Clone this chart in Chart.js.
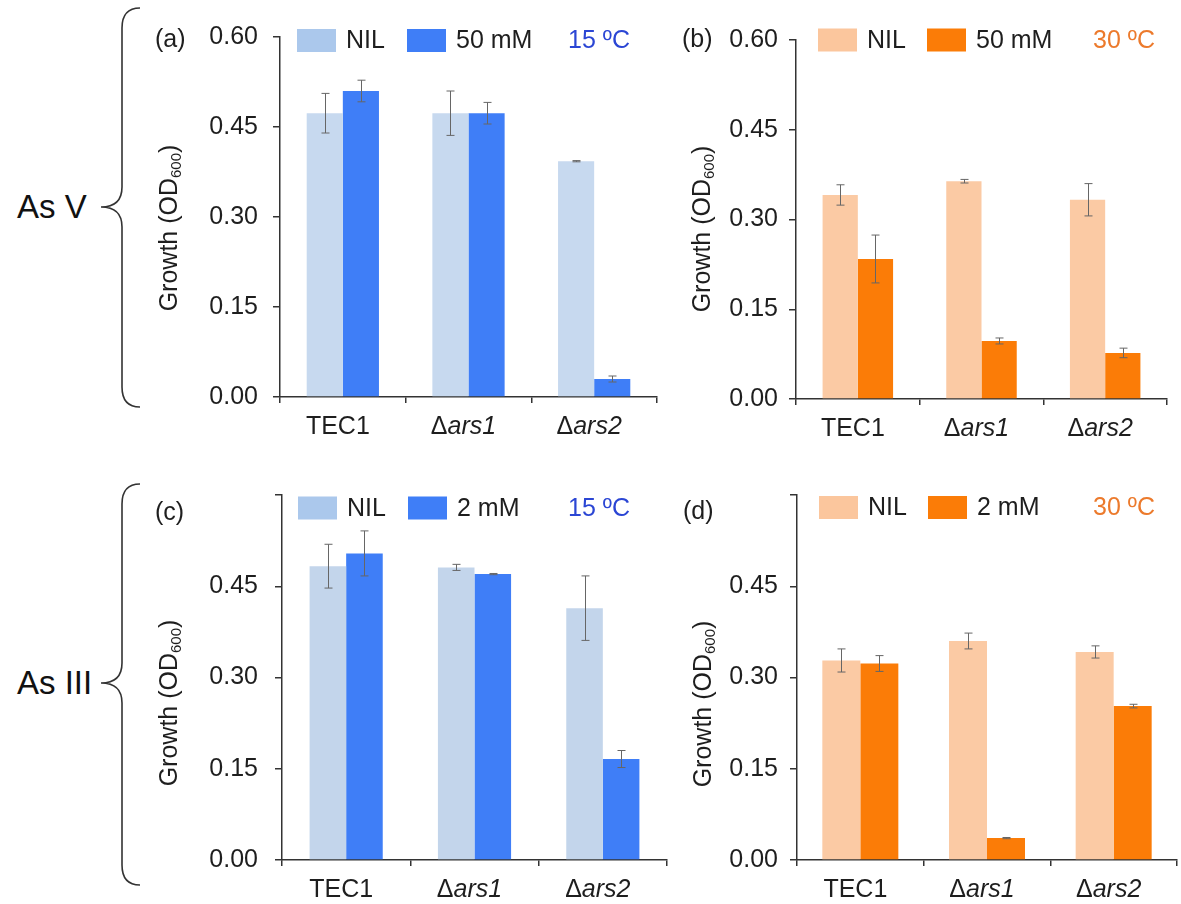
<!DOCTYPE html>
<html><head><meta charset="utf-8">
<script src="https://cdn.jsdelivr.net/npm/chart.js@4.4.1/dist/chart.umd.min.js"></script>
<style>
html,body{margin:0;padding:0;background:#fff}
body{width:1181px;height:904px;overflow:hidden;position:relative;font-family:"Liberation Sans",Arial,sans-serif}
canvas{position:absolute}
.grp{position:absolute;font-size:33px;color:#111;line-height:1;white-space:nowrap}
svg{position:absolute;left:0;top:0}
</style></head><body>
<svg width="160" height="904">
  <path d="M140,8 Q122,8 122,28 L122,187 Q122,207 101,207 Q122,207 122,227 L122,387 Q122,407 140,407" fill="none" stroke="#333" stroke-width="1.6"/>
  <path d="M140,484 Q122,484 122,504 L122,663 Q122,683 101,683 Q122,683 122,703 L122,865 Q122,885 140,885" fill="none" stroke="#333" stroke-width="1.6"/>
</svg>
<div class="grp" style="left:17px;top:190px">As V</div>
<div class="grp" style="left:17px;top:666px">As III</div>
<canvas id="ca"></canvas>
<canvas id="cb"></canvas>
<canvas id="cc"></canvas>
<canvas id="cd"></canvas>
<script>
// ---------- data ----------
const categories = ['TEC1', 'Δars1', 'Δars2'];
const yTicks = [0, 0.15, 0.30, 0.45, 0.60];

const asV15Nil = [0.473, 0.473, 0.393];
const asV15NilErr = [0.033, 0.037, 0.001];
const asV15Dose = [0.510, 0.473, 0.030];
const asV15DoseErr = [0.018, 0.018, 0.005];

const asV30Nil = [0.341, 0.364, 0.333];
const asV30NilErr = [0.017, 0.003, 0.027];
const asV30Dose = [0.234, 0.097, 0.077];
const asV30DoseErr = [0.040, 0.005, 0.008];

const asIII15Nil = [0.483, 0.481, 0.414];
const asIII15NilErr = [0.036, 0.005, 0.053];
const asIII15Dose = [0.504, 0.470, 0.166];
const asIII15DoseErr = [0.037, 0.001, 0.014];

const asIII30Nil = [0.328, 0.360, 0.342];
const asIII30NilErr = [0.019, 0.013, 0.010];
const asIII30Dose = [0.323, 0.036, 0.253];
const asIII30DoseErr = [0.013, 0.001, 0.003];

const seriesNames = { nil: 'NIL', asV: '50 mM', asIII: '2 mM' };
const tempLabels = { cold: '15 ºC', warm: '30 ºC' };

// ---------- styles ----------
const C = {
  blueLight: '#c7d9ef', blueLightLeg: '#abc8ec', blue: '#3f7ef7', blueText: '#2b46d4',
  orangeLight: '#fbcaa4', orangeLightLeg: '#fbc69d', orange: '#fb7c07', orangeText: '#ec7a2c',
  axis: '#333', text: '#1e1e1e', err: '#666'
};
const FONT = '"Liberation Sans", Arial, sans-serif';

const panels = [
  { id: 'ca', letter: '(a)', canvas: {x:140, y:0, w:530, h:455}, area: {l:280, t:37, r:657, b:397},
    nil: asV15Nil, nilErr: asV15NilErr, dose: asV15Dose, doseErr: asV15DoseErr, doseName: seriesNames.asV,
    temp: tempLabels.cold, light: C.blueLight, lightLeg: C.blueLightLeg, dark: C.blue, tempColor: C.blueText,
    catPct: 0.575, tickPad: 15, hideTop: false,
    letterPos: [155, 40], titleX: 170, titleY: 228, legY: 40.5, leg1: 17, leg2: 127, tempX: 288 },
  { id: 'cb', letter: '(b)', canvas: {x:660, y:0, w:521, h:455}, area: {l:796, t:40, r:1167, b:399},
    nil: asV30Nil, nilErr: asV30NilErr, dose: asV30Dose, doseErr: asV30DoseErr, doseName: seriesNames.asV,
    temp: tempLabels.warm, light: C.orangeLight, lightLeg: C.orangeLightLeg, dark: C.orange, tempColor: C.orangeText,
    catPct: 0.57, tickPad: 11, hideTop: false,
    letterPos: [682, 40], titleX: 703, titleY: 229, legY: 40, leg1: 22, leg2: 131, tempX: 297 },
  { id: 'cc', letter: '(c)', canvas: {x:140, y:460, w:540, h:444}, area: {l:282, t:495, r:667, b:860},
    nil: asIII15Nil, nilErr: asIII15NilErr, dose: asIII15Dose, doseErr: asIII15DoseErr, doseName: seriesNames.asIII,
    temp: tempLabels.cold, light: '#c3d5eb', lightLeg: C.blueLightLeg, dark: C.blue, tempColor: C.blueText,
    catPct: 0.57, tickPad: 17, hideTop: true,
    letterPos: [155, 513], titleX: 170, titleY: 703, legY: 508, leg1: 16, leg2: 126, tempX: 286 },
  { id: 'cd', letter: '(d)', canvas: {x:660, y:460, w:521, h:444}, area: {l:797, t:495, r:1177, b:860},
    nil: asIII30Nil, nilErr: asIII30NilErr, dose: asIII30Dose, doseErr: asIII30DoseErr, doseName: seriesNames.asIII,
    temp: tempLabels.warm, light: C.orangeLight, lightLeg: C.orangeLightLeg, dark: C.orange, tempColor: C.orangeText,
    catPct: 0.6, tickPad: 12, hideTop: true,
    letterPos: [683, 512], titleX: 704, titleY: 704, legY: 507.5, leg1: 22, leg2: 131, tempX: 296 }
];

const decorPlugin = {
  id: 'decor',
  afterDatasetsDraw(chart, args, o) {
    const ctx = chart.ctx, p = o.panel, ox = p.canvas.x, oy = p.canvas.y;
    const xs = chart.scales.x, ys = chart.scales.y, area = chart.chartArea;
    ctx.save();
    // error bars
    ctx.strokeStyle = C.err; ctx.lineWidth = 1;
    chart.data.datasets.forEach((ds, di) => {
      const meta = chart.getDatasetMeta(di);
      ds.data.forEach((v, i) => {
        const e = ds.errors[i];
        const x = Math.round(meta.data[i].x) + 0.5;
        const y1 = ys.getPixelForValue(v + e), y2 = ys.getPixelForValue(v - e);
        ctx.beginPath();
        ctx.moveTo(x, y1); ctx.lineTo(x, y2);
        ctx.moveTo(x - 4, y1); ctx.lineTo(x + 4, y1);
        ctx.moveTo(x - 4, y2); ctx.lineTo(x + 4, y2);
        ctx.stroke();
      });
    });
    ctx.fillStyle = C.text;
    // x category labels
    ctx.textBaseline = 'alphabetic';
    ctx.textAlign = 'left';
    chart.data.labels.forEach((lab, i) => {
      const cx = xs.getPixelForValue(i) - 5;
      const by = area.bottom + 37;
      if (lab.startsWith('Δ')) {
        ctx.font = '25px ' + FONT;
        const w1 = ctx.measureText('Δ').width;
        ctx.font = 'italic 25px ' + FONT;
        const w2 = ctx.measureText(lab.slice(1)).width;
        const sx = cx - (w1 + w2) / 2;
        ctx.font = '25px ' + FONT;
        ctx.fillText('Δ', sx, by);
        ctx.font = 'italic 25px ' + FONT;
        ctx.fillText(lab.slice(1), sx + w1, by);
      } else {
        ctx.font = '25px ' + FONT;
        const w = ctx.measureText(lab).width;
        ctx.fillText(lab, cx - w / 2, by);
      }
    });
    // panel letter
    ctx.font = '25px ' + FONT;
    ctx.textBaseline = 'middle';
    ctx.fillText(p.letter, p.letterPos[0] - ox, p.letterPos[1] - oy);
    // y title with subscript
    ctx.save();
    ctx.translate(p.titleX - ox, p.titleY - oy);
    ctx.rotate(-Math.PI / 2);
    const t1 = 'Growth (OD', t2 = '600', t3 = ')';
    ctx.font = '25px ' + FONT; const w1 = ctx.measureText(t1).width, w3 = ctx.measureText(t3).width;
    ctx.font = '15px ' + FONT; const w2 = ctx.measureText(t2).width;
    let sx = -(w1 + w2 + w3) / 2;
    ctx.font = '25px ' + FONT; ctx.fillText(t1, sx, 0);
    ctx.font = '15px ' + FONT; ctx.fillText(t2, sx + w1, 7);
    ctx.font = '25px ' + FONT; ctx.fillText(t3, sx + w1 + w2, 0);
    ctx.restore();
    // legend
    const ly = p.legY - oy;
    const items = [[p.leg1, chart.data.datasets[0].legendColor, chart.data.datasets[0].label],
                   [p.leg2, chart.data.datasets[1].legendColor, chart.data.datasets[1].label]];
    items.forEach(([off, col, lab]) => {
      const bx = area.left + off;
      ctx.fillStyle = col;
      ctx.fillRect(bx, ly - 11.5, 39, 23);
      ctx.fillStyle = C.text;
      ctx.font = '25px ' + FONT;
      ctx.fillText(lab, bx + 49, ly + 1);
    });
    ctx.fillStyle = p.tempColor;
    ctx.fillText(p.temp, area.left + p.tempX, ly + 1);
    ctx.restore();
  }
};

panels.forEach(p => {
  const cv = document.getElementById(p.id);
  cv.width = p.canvas.w; cv.height = p.canvas.h;
  cv.style.left = p.canvas.x + 'px'; cv.style.top = p.canvas.y + 'px';
  cv.style.width = p.canvas.w + 'px'; cv.style.height = p.canvas.h + 'px';
  const yW = p.area.l - p.canvas.x;
  const xH = p.canvas.y + p.canvas.h - p.area.b;
  new Chart(cv, {
    type: 'bar',
    data: {
      labels: categories,
      datasets: [
        { label: seriesNames.nil, data: p.nil, errors: p.nilErr, backgroundColor: p.light, legendColor: p.lightLeg,
          categoryPercentage: p.catPct, barPercentage: 1, borderWidth: 0 },
        { label: p.doseName, data: p.dose, errors: p.doseErr, backgroundColor: p.dark, legendColor: p.dark,
          categoryPercentage: p.catPct, barPercentage: 1, borderWidth: 0 }
      ]
    },
    options: {
      responsive: false, animation: false, devicePixelRatio: 1,
      layout: { padding: { left: 0, top: p.area.t - p.canvas.y, right: p.canvas.x + p.canvas.w - p.area.r, bottom: 0 } },
      plugins: { legend: { display: false }, tooltip: { enabled: false }, decor: { panel: p } },
      scales: {
        x: {
          offset: true,
          grid: { display: true, offset: true, drawOnChartArea: false, drawTicks: true, tickLength: 6, color: C.axis, lineWidth: 1.5 },
          border: { display: true, color: C.axis, width: 1.5 },
          ticks: { display: false },
          afterFit(s) { s.height = xH; }
        },
        y: {
          min: 0, max: 0.6,
          afterBuildTicks(s) { s.ticks = yTicks.map(v => ({ value: v })); },
          grid: { display: true, drawOnChartArea: false, drawTicks: true, tickLength: 7, color: C.axis, lineWidth: 1.5 },
          border: { display: true, color: C.axis, width: 1.5 },
          ticks: {
            padding: p.tickPad, color: C.text, font: { family: FONT, size: 25 },
            callback: (v) => (p.hideTop && Math.abs(v - 0.6) < 1e-9) ? '' : Number(v).toFixed(2)
          },
          afterFit(s) { s.width = yW; }
        }
      }
    },
    plugins: [decorPlugin]
  });
});
</script>
</body></html>
